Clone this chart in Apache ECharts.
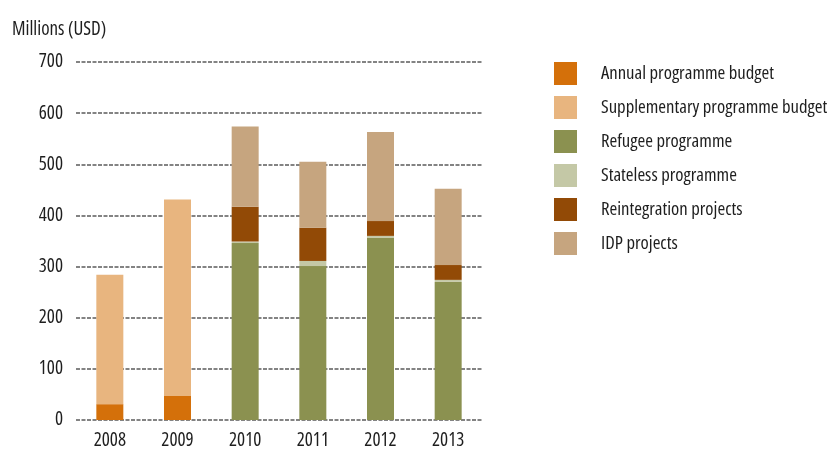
<!DOCTYPE html>
<html>
<head>
<meta charset="utf-8">
<script src="https://cdn.jsdelivr.net/npm/echarts@6/dist/echarts.min.js"></script>
<style>
html,body{margin:0;padding:0;background:#fff;}
#c{width:830px;height:451px;}
</style>
</head>
<body>
<div id="c"></div>
<script>
var categories = ['2008', '2009', '2010', '2011', '2012', '2013'];
var annualBudget = [31, 47, null, null, null, null];
var supplementaryBudget = [253, 384, null, null, null, null];
var refugeeProgramme = [null, null, 346, 301, 356, 270];
var statelessProgramme = [null, null, 3, 10, 4, 4];
var reintegrationProjects = [null, null, 68, 65, 29, 29];
var idpProjects = [null, null, 157, 129, 174, 149];
var yTicks = [0, 100, 200, 300, 400, 500, 600, 700];

var FONT = '"Open Sans", sans-serif';
var TXT = function (size, extra) {
  var o = {fontFamily: FONT, fontSize: size, fontStyle: 'normal', fontWeight: 'condensed', color: '#1e1e1e'};
  for (var k in extra) o[k] = extra[k];
  return o;
};
var names = ['Annual programme budget', 'Supplementary programme budget', 'Refugee programme', 'Stateless programme', 'Reintegration projects', 'IDP projects'];
var colors = ['#D4700A', '#E8B57F', '#8B9150', '#C4C8A6', '#924A06', '#C6A57F'];
var datas = [annualBudget, supplementaryBudget, refugeeProgramme, statelessProgramme, reintegrationProjects, idpProjects];

var chart = echarts.init(document.getElementById('c'), null, {renderer: 'canvas'});
chart.setOption({
  animation: false,
  backgroundColor: '#fff',
  color: colors,
  title: {
    text: 'Millions (USD)',
    left: 7, top: 15,
    textStyle: TXT(19)
  },
  legend: {
    orient: 'vertical',
    left: 554, top: 62,
    padding: 0,
    itemWidth: 23, itemHeight: 23, itemGap: 11,
    icon: 'rect',
    data: names,
    textStyle: TXT(18.7, {padding: [0, 0, 0, 19]})
  },
  grid: {left: 76, right: 348, top: 62, bottom: 31, containLabel: false},
  xAxis: {
    type: 'category',
    data: categories,
    axisLine: {show: false},
    axisTick: {show: false},
    axisLabel: TXT(19, {margin: 11})
  },
  yAxis: {
    type: 'value',
    min: yTicks[0], max: yTicks[yTicks.length - 1], interval: 100,
    axisLine: {show: false},
    axisTick: {show: false},
    axisLabel: TXT(19, {margin: 13}),
    splitLine: {show: true, lineStyle: {color: '#838383', width: 1.8, type: [4, 1.5]}}
  },
  series: datas.map(function (d, i) {
    return {
      name: names[i],
      type: 'bar',
      stack: 'total',
      barWidth: 27,
      data: d,
      itemStyle: {color: colors[i]}
    };
  })
});
</script>
</body>
</html>
